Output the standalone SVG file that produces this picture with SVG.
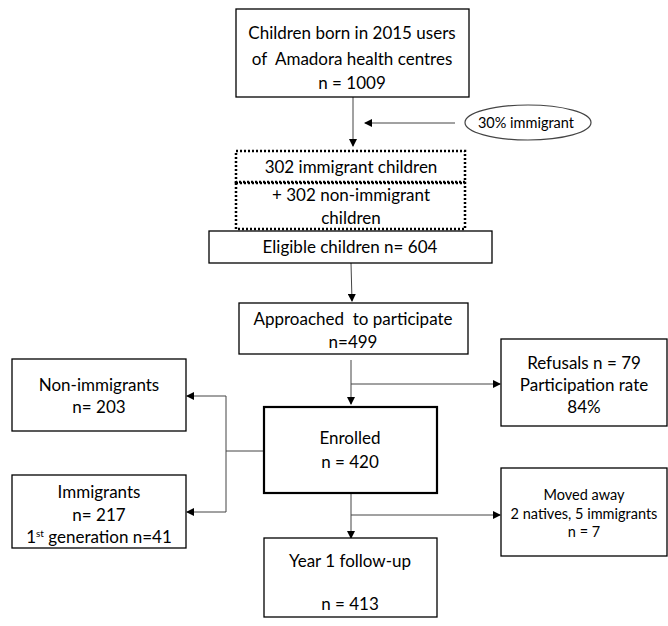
<svg xmlns="http://www.w3.org/2000/svg" width="668" height="626" viewBox="0 0 668 626">
<style>
.b{fill:#fff;stroke:#000;stroke-width:1.3}
.bt{fill:#fff;stroke:#000;stroke-width:2.2}
.d{fill:none;stroke:#000;stroke-width:2.5;stroke-dasharray:2 2}
.t{font-family:Lato,"Liberation Sans",sans-serif;font-size:17px;fill:#000;text-anchor:middle;white-space:pre}
.s{font-size:14.5px}
.c{fill:none;stroke:#444;stroke-width:1}
</style>
<defs>
<marker id="ah" markerWidth="8" markerHeight="8" refX="7" refY="4" orient="auto" markerUnits="userSpaceOnUse">
<path d="M0,0 L8,4 L0,8 z" fill="#000"/>
</marker>
</defs>
<g id="connectors">
<line class="c" x1="353" y1="97" x2="353" y2="146" marker-end="url(#ah)"/>
<line class="c" x1="455" y1="123" x2="365" y2="123" marker-end="url(#ah)"/>
<line class="c" x1="351" y1="263" x2="352" y2="301" marker-end="url(#ah)"/>
<line class="c" x1="351" y1="360" x2="351" y2="404" marker-end="url(#ah)"/>
<line class="c" x1="351" y1="384" x2="500" y2="384" marker-end="url(#ah)"/>
<line class="c" x1="264" y1="451" x2="226" y2="451"/>
<polyline class="c" points="226,396 226,512"/>
<line class="c" x1="226" y1="396" x2="187" y2="396" marker-end="url(#ah)"/>
<line class="c" x1="226" y1="512" x2="187" y2="512" marker-end="url(#ah)"/>
<line class="c" x1="351" y1="493" x2="351" y2="538" marker-end="url(#ah)"/>
<line class="c" x1="351" y1="515" x2="500" y2="515" marker-end="url(#ah)"/>
</g>
<g id="born">
<rect class="b" x="236" y="9" width="233" height="88"/>
<text class="t" x="352" y="39">Children born in 2015 users</text>
<text class="t" x="352" y="65">of  Amadora health centres</text>
<text class="t" x="352" y="89">n = 1009</text>
</g>
<g id="pct">
<ellipse cx="528" cy="122.5" rx="63" ry="17.5" fill="#fff" stroke="#444" stroke-width="1.2"/>
<text class="t s" x="526" y="128">30% immigrant</text>
</g>
<g id="imm302">
<rect class="d" x="236" y="151" width="229" height="31"/>
<text class="t" x="351" y="173">302 immigrant children</text>
</g>
<g id="non302">
<rect class="d" x="236" y="183" width="229" height="46"/>
<text class="t" x="351" y="201">+ 302 non-immigrant</text>
<text class="t" x="351" y="224">children</text>
</g>
<g id="eligible">
<rect class="b" x="209" y="231" width="283" height="32"/>
<text class="t" x="350" y="253">Eligible children n= 604</text>
</g>
<g id="approached">
<rect class="b" x="239" y="303" width="229" height="51"/>
<text class="t" x="353" y="325">Approached  to participate</text>
<text class="t" x="353" y="348">n=499</text>
</g>
<g id="refusals">
<rect class="b" x="501" y="339" width="166" height="87"/>
<text class="t" x="584" y="369">Refusals n = 79</text>
<text class="t" x="584" y="391">Participation rate</text>
<text class="t" x="584" y="413">84%</text>
</g>
<g id="nonimm">
<rect class="b" x="12" y="359" width="174" height="72"/>
<text class="t" x="99" y="391">Non-immigrants</text>
<text class="t" x="99" y="413">n= 203</text>
</g>
<g id="enrolled">
<rect class="bt" x="264" y="407" width="173" height="86"/>
<text class="t" x="350" y="444">Enrolled</text>
<text class="t" x="350" y="468">n = 420</text>
</g>
<g id="imm">
<rect class="b" x="12" y="475" width="174" height="73"/>
<text class="t" x="99" y="498">Immigrants</text>
<text class="t" x="99" y="521">n= 217</text>
<text class="t" x="99" y="543">1<tspan font-size="10" dy="-6">st</tspan><tspan dy="6"> generation n=41</tspan></text>
</g>
<g id="moved">
<rect class="b" x="501" y="468" width="166" height="88"/>
<text class="t s" x="584" y="500">Moved away</text>
<text class="t s" x="584" y="519">2 natives, 5 immigrants</text>
<text class="t s" x="584" y="537">n = 7</text>
</g>
<g id="year1">
<rect class="b" x="264" y="538" width="173" height="79"/>
<text class="t" x="350" y="567">Year 1 follow-up</text>
<text class="t" x="350" y="610">n = 413</text>
</g>
</svg>
